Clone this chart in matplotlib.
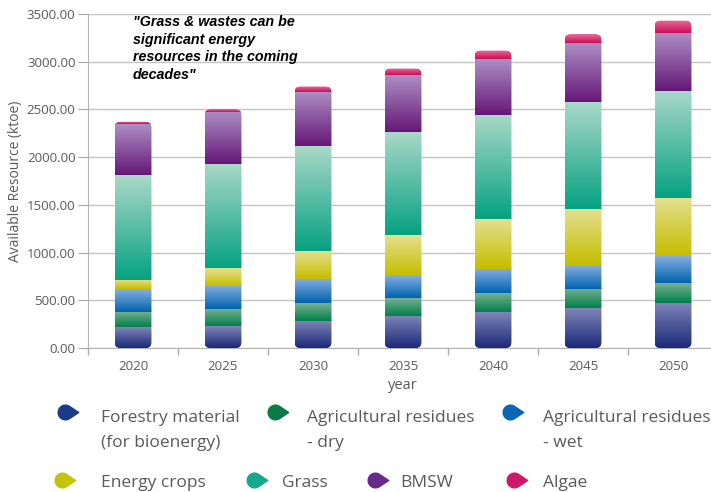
import numpy as np
import matplotlib
matplotlib.use("Agg")
import matplotlib.pyplot as plt
from matplotlib.colors import to_rgb
from matplotlib.patches import FancyBboxPatch
from matplotlib.path import Path
from matplotlib.lines import Line2D

# --- data (ktoe) ---
years = ["2020", "2025", "2030", "2035", "2040", "2045", "2050"]
forestry = [215, 230, 286, 339, 374, 416, 475]
agri_dry = [165, 175, 182, 188, 199, 206, 209]
agri_wet = [235, 245, 252, 238, 252, 248, 280]
energy_crops = [100, 185, 300, 419, 524, 590, 608]
grass = [1100, 1093, 1097, 1083, 1090, 1121, 1125]
bmsw = [530, 545, 569, 591, 586, 612, 607]
algae = [25, 27, 54, 70, 91, 93, 126]

series = [forestry, agri_dry, agri_wet, energy_crops, grass, bmsw, algae]
labels = ["Forestry material\n(for bioenergy)", "Agricultural residues\n- dry",
          "Agricultural residues\n- wet", "Energy crops", "Grass", "BMSW", "Algae"]
# (bottom colour, top colour, legend colour)
colours = [("#1b2a78", "#8085b8", "#1c3a86"),
           ("#00804a", "#78b092", "#0a7a48"),
           ("#0064b0", "#86aede", "#0a66b0"),
           ("#c6be00", "#e4e090", "#c4c40c"),
           ("#06a282", "#aad8c8", "#16a88c"),
           ("#661878", "#ac8ec4", "#6a2a8a"),
           ("#cc0c58", "#e86c98", "#d0186a")]

plt.rcParams['font.family'] = ['Open Sans', 'DejaVu Sans']
grey = "#5a5a5a"

fig = plt.figure(figsize=(7.11, 4.92), dpi=100)
ax = fig.add_axes([88 / 711, 1 - 348 / 492, 630 / 711, 334 / 492])

x = np.arange(len(years))
w = 0.41
bottom = np.zeros(len(years))
bar_sets = []
for vals, (c0, c1, _) in zip(series, colours):
    bars = ax.bar(x, vals, w, bottom=bottom, color=c0, linewidth=0, zorder=2)
    bar_sets.append((bars, c0, c1))
    bottom = bottom + np.array(vals)
totals = bottom

# rounded outline per stacked column, used as clip path
ry = 62.0
rx = 0.07
clips = []
for i in range(len(years)):
    p = FancyBboxPatch((x[i] - w / 2, 0), w, totals[i],
                       boxstyle="round,pad=0,rounding_size=%g" % rx,
                       mutation_aspect=ry / rx, facecolor="none",
                       edgecolor="none", transform=ax.transData)
    ax.add_patch(p)
    clips.append(p)

# vertical gradient in each segment (light on top, dark at the bottom)
for bars, c0, c1 in bar_sets:
    a, b = np.array(to_rgb(c0)), np.array(to_rgb(c1))
    t = np.linspace(0, 1, 64)[:, None]
    grad = (a + (b - a) * t)[:, None, :]
    for i, r in enumerate(bars):
        r.set_clip_path(clips[i])
        im = ax.imshow(grad, extent=[r.get_x(), r.get_x() + r.get_width(),
                                     r.get_y(), r.get_y() + r.get_height()],
                       origin="lower", aspect="auto", interpolation="bilinear",
                       zorder=3)
        im.set_clip_path(clips[i])

ax.set_xlim(-0.5, len(years) - 0.5)
ax.set_ylim(0, 3500)
ax.set_yticks(np.arange(0, 3501, 500))
ax.set_yticklabels(["%.2f" % v for v in np.arange(0, 3501, 500)])
ax.set_xticks(x)
ax.set_xticklabels(years)
ax.set_xticks(np.arange(-0.5, len(years)), minor=True)
ax.tick_params(axis="x", which="major", length=0, pad=9, labelsize=9.5, colors=grey)
ax.tick_params(axis="x", which="minor", length=5, color="#aaaaaa", width=1)
ax.tick_params(axis="y", length=7, color="#aaaaaa", pad=2, labelsize=9.5, colors=grey)
ax.grid(axis="y", color="#c4c4c4", linewidth=1, zorder=0)
ax.set_axisbelow(True)
for s in ["top", "right"]:
    ax.spines[s].set_visible(False)
for s in ["left", "bottom"]:
    ax.spines[s].set_color("#b4b4b4")
ax.set_xlabel("year", fontsize=10.5, color=grey, labelpad=3)
ax.set_ylabel("Available Resource (ktoe)", fontsize=10, color=grey, labelpad=3)

ax.text(0.0, 3490, '"Grass & wastes can be\nsignificant energy\nresources in the coming\ndecades"',
        family="Liberation Sans", fontsize=10.3, fontweight="bold", style="italic",
        color="black", va="top", ha="left", linespacing=1.33, zorder=5)

# droplet marker for the legend: round head, pointed tail to the right
tip = 1.8
ang = np.arccos(1 / tip)
theta = np.linspace(ang, 2 * np.pi - ang, 40)
verts = [(tip, 0.0)] + [(np.cos(a), np.sin(a)) for a in theta] + [(tip, 0.0)]
drop = Path(verts, [Path.MOVETO] + [Path.LINETO] * (len(verts) - 2) + [Path.CLOSEPOLY])

marker_pos = [(65, 412), (275, 412), (510, 412), (62, 480), (254, 480), (375, 480), (514, 480)]
# baseline of each label's last line
text_pos = [(101, 447), (307, 447), (543, 447), (101, 487), (282, 487), (400, 487), (543, 487)]
for (mx, my), (tx, ty), lab, (_, _, lc) in zip(marker_pos, text_pos, labels, colours):
    fig.add_artist(Line2D([mx / 711], [1 - my / 492], marker=drop, markersize=19,
                          color=lc, linestyle="none", transform=fig.transFigure))
    fig.text(tx / 711, 1 - ty / 492, lab, fontsize=12.5, color=grey,
             va="baseline", ha="left", linespacing=1.75)

fig.savefig("out.png", dpi=100)
